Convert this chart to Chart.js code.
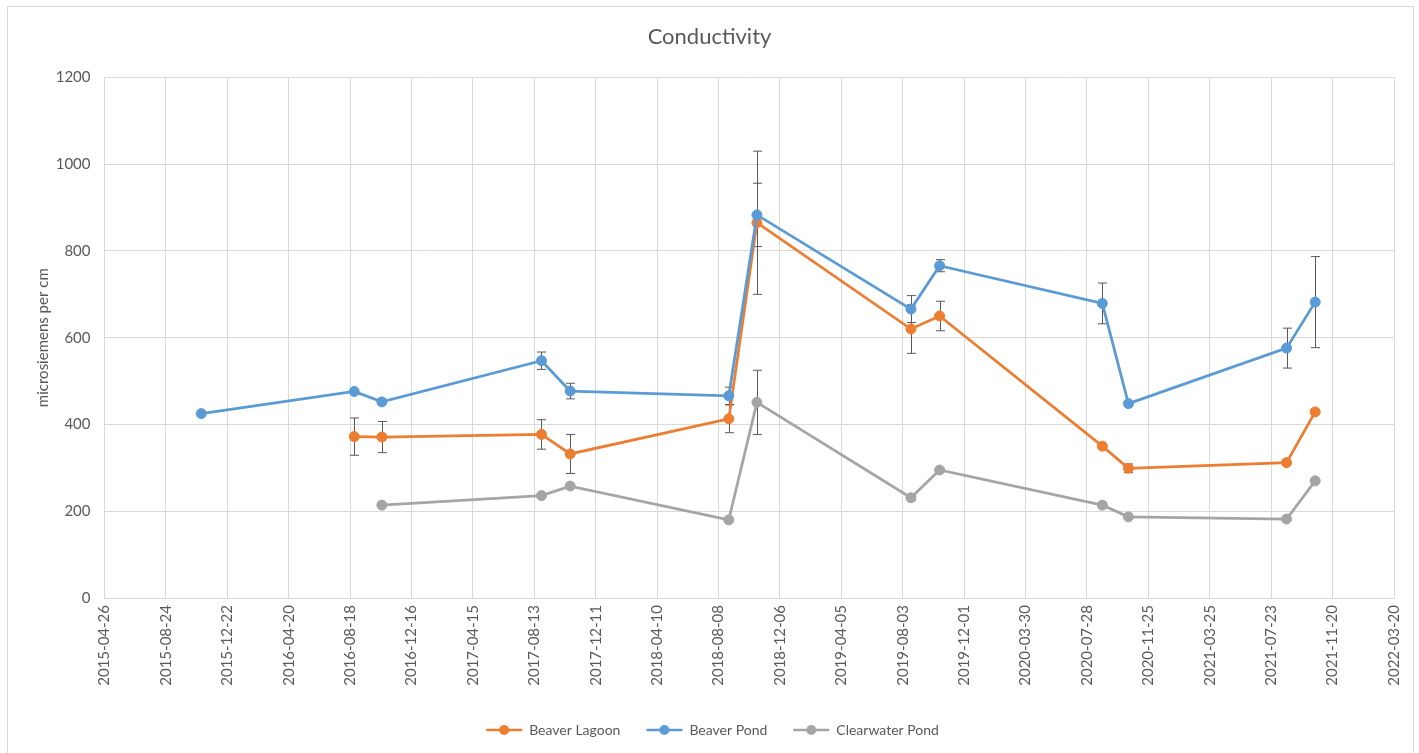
<!DOCTYPE html>
<html>
<head>
<meta charset="utf-8">
<title>Conductivity</title>
<script src="https://cdn.jsdelivr.net/npm/chart.js@4.4.1/dist/chart.umd.min.js"></script>
<style>
  html, body { margin: 0; padding: 0; background: #fff; overflow: hidden; }
  #frame {
    position: absolute; left: 7px; top: 6px; width: 1407px; height: 800px;
    box-sizing: border-box; border: 1px solid #d9d9d9;
  }
  #chart { position: absolute; left: 0; top: 0; }
</style>
</head>
<body>
<div id="frame"></div>
<canvas id="chart" width="1419" height="753"></canvas>
<script>
// x axis ticks every 120 days, like the source spreadsheet
const tickLabels = ['2015-04-26','2015-08-24','2015-12-22','2016-04-20','2016-08-18','2016-12-16',
  '2017-04-15','2017-08-13','2017-12-11','2018-04-10','2018-08-08','2018-12-06','2019-04-05',
  '2019-08-03','2019-12-01','2020-03-30','2020-07-28','2020-11-25','2021-03-25','2021-07-23',
  '2021-11-20','2022-03-20'];
const yTicks = [0, 200, 400, 600, 800, 1000, 1200];

const lagoonDates  = ['2016-08-26','2016-10-19','2017-08-27','2017-10-22','2018-08-28','2018-10-22',
  '2019-08-19','2019-10-14','2020-08-27','2020-10-17','2021-08-22','2021-10-17'];
const lagoonValues = [372, 371, 377, 332, 413, 865, 620, 650, 350, 299, 312, 429];
const lagoonErrors = [43, 36, 34, 45, 32, 165, 56, 34, 0, 10, 0, 0];

const pondDates  = ['2015-11-01','2016-08-26','2016-10-19','2017-08-27','2017-10-22','2018-08-28',
  '2018-10-22','2019-08-19','2019-10-14','2020-08-27','2020-10-17','2021-08-22','2021-10-17'];
const pondValues = [425, 476, 452, 547, 477, 466, 883, 666, 766, 679, 448, 576, 682];
const pondErrors = [0, 0, 0, 20, 18, 20, 73, 31, 14, 47, 0, 46, 105];

const clearDates  = ['2016-10-19','2017-08-27','2017-10-22','2018-08-28','2018-10-22','2019-08-19',
  '2019-10-14','2020-08-27','2020-10-17','2021-08-22','2021-10-17'];
const clearValues = [214, 236, 258, 180, 451, 231, 295, 214, 187, 182, 270];
const clearErrors = [0, 0, 0, 0, 74, 6, 0, 6, 0, 0, 0];

const FONT = 'Lato, "Open Sans", sans-serif';
const TEXT = '#595959';
const GRID = '#d9d9d9';

const toDay = s => Date.UTC(+s.slice(0, 4), +s.slice(5, 7) - 1, +s.slice(8, 10)) / 86400000;
const dayLabel = v => new Date(v * 86400000).toISOString().slice(0, 10);
const points = (dates, values) => dates.map((d, i) => ({ x: toDay(d), y: values[i] }));

// legend marker: a short line with a dot, Excel style
// (image is a bit wider than the legend box so the line ends close to the text)
function legendIcon(color) {
  const c = document.createElement('canvas');
  c.width = 62; c.height = 14;
  const g = c.getContext('2d');
  g.strokeStyle = color; g.lineWidth = 2.5;
  g.beginPath(); g.moveTo(23, 7); g.lineTo(59, 7); g.stroke();
  g.fillStyle = color;
  g.beginPath(); g.arc(41, 7, 5, 0, Math.PI * 2); g.fill();
  return c;
}

function series(label, color, dates, values, errors, order) {
  return {
    label,
    data: points(dates, values),
    errors,
    order,
    borderColor: color,
    backgroundColor: color,
    pointBackgroundColor: color,
    pointBorderColor: color,
    borderWidth: 2.75,
    pointRadius: 5,
    pointBorderWidth: 1,
    tension: 0,
    icon: legendIcon(color)
  };
}

const errorBars = {
  id: 'errorBars',
  beforeDatasetsDraw(chart) {
    const { ctx } = chart;
    const y = chart.scales.y;
    ctx.save();
    ctx.strokeStyle = '#595959';
    ctx.lineWidth = 1;
    chart.data.datasets.forEach((ds, di) => {
      const meta = chart.getDatasetMeta(di);
      ds.data.forEach((p, i) => {
        const e = ds.errors[i];
        if (!e) return;
        const px = Math.round(meta.data[i].x) + 0.5;
        const top = y.getPixelForValue(p.y + e);
        const bot = y.getPixelForValue(p.y - e);
        ctx.beginPath();
        ctx.moveTo(px, top); ctx.lineTo(px, bot);
        ctx.moveTo(px - 4.5, top); ctx.lineTo(px + 4.5, top);
        ctx.moveTo(px - 4.5, bot); ctx.lineTo(px + 4.5, bot);
        ctx.stroke();
      });
    });
    ctx.restore();
  }
};

// the spreadsheet centres title and legend on the whole frame, not the plot
const recentre = {
  id: 'recentre',
  afterLayout(chart) {
    if (chart.titleBlock) { chart.titleBlock.left -= 6; chart.titleBlock.right -= 6; }
    if (chart.legend) { chart.legend.left -= 13; chart.legend.right -= 13; }
  }
};

new Chart(document.getElementById('chart'), {
  type: 'line',
  data: {
    datasets: [
      series('Beaver Lagoon', '#ED7D31', lagoonDates, lagoonValues, lagoonErrors, 3),
      series('Beaver Pond', '#5B9BD5', pondDates, pondValues, pondErrors, 2),
      series('Clearwater Pond', '#A5A5A5', clearDates, clearValues, clearErrors, 1)
    ]
  },
  plugins: [errorBars, recentre],
  options: {
    responsive: false,
    animation: false,
    devicePixelRatio: 1,
    layout: { padding: { left: 34, right: 22, top: 0, bottom: 6 } },
    plugins: {
      title: {
        display: true,
        text: 'Conductivity',
        color: TEXT,
        font: { family: FONT, size: 22, weight: 'normal' },
        padding: { top: 24, bottom: 27 }
      },
      legend: {
        position: 'bottom',
        labels: {
          usePointStyle: true,
          pointStyleWidth: 56,
          padding: 6,
          color: TEXT,
          font: { family: FONT, size: 14 },
          sort: (a, b) => a.datasetIndex - b.datasetIndex,
          generateLabels(chart) {
            const items = Chart.defaults.plugins.legend.labels.generateLabels(chart);
            items.forEach(it => {
              it.pointStyle = chart.data.datasets[it.datasetIndex].icon;
              it.fontColor = TEXT;
            });
            return items;
          }
        }
      },
      tooltip: { enabled: false }
    },
    scales: {
      x: {
        type: 'linear',
        min: toDay(tickLabels[0]),
        max: toDay(tickLabels[tickLabels.length - 1]),
        afterBuildTicks: axis => { axis.ticks = tickLabels.map(t => ({ value: toDay(t) })); },
        afterFit: axis => { axis.height = 119; },
        grid: { color: GRID, drawTicks: false },
        border: { color: GRID },
        ticks: {
          autoSkip: false,
          maxRotation: 90,
          minRotation: 90,
          padding: 7,
          color: TEXT,
          font: { family: FONT, size: 15 },
          callback: v => dayLabel(v)
        }
      },
      y: {
        min: 0,
        max: 1200,
        afterBuildTicks: axis => { axis.ticks = yTicks.map(v => ({ value: v })); },
        afterFit: axis => { axis.width = 70.5; },
        grid: { color: GRID, drawTicks: false },
        border: { color: GRID },
        ticks: {
          padding: 14,
          color: TEXT,
          font: { family: FONT, size: 15 },
          callback: v => String(v)
        },
        title: {
          display: true,
          text: 'microsiemens per cm',
          color: TEXT,
          padding: 0,
          font: { family: FONT, size: 15 }
        }
      }
    }
  }
});
</script>
</body>
</html>
